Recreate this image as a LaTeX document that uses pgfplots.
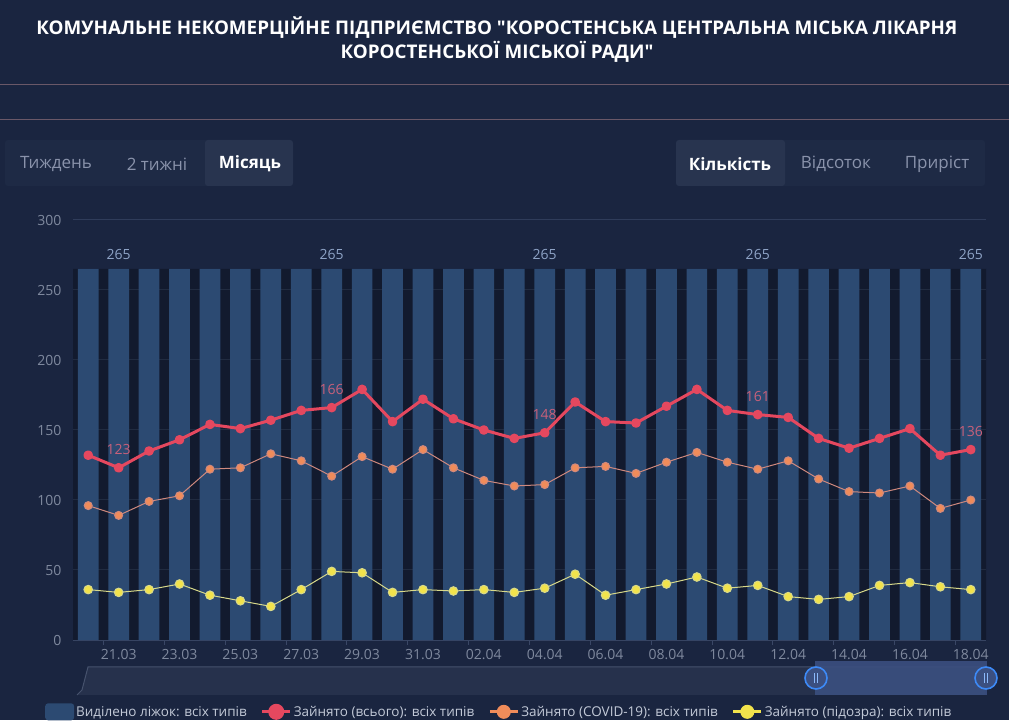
\documentclass[border=0pt]{standalone}
\usepackage{pgfplots}
\pgfplotsset{compat=1.18}
\usepackage{pgfplotstable}
\usepackage{fontspec}
\setmainfont{Open Sans}
\newfontfamily\titlefont{Open Sans}[Ligatures=TeXOff]
\definecolor{bg}{HTML}{1A2540}
\definecolor{barc}{HTML}{2C4A72}
\definecolor{redc}{HTML}{E5485F}
\definecolor{orc}{HTML}{F08C5A}
\definecolor{orline}{HTML}{D0897E}
\definecolor{yelc}{HTML}{F2E34C}
\definecolor{yelline}{HTML}{D8D98A}
\definecolor{gridc}{HTML}{2F3C5A}
\definecolor{axisc}{HTML}{3A4766}
\definecolor{tickc}{HTML}{7F899E}
\definecolor{labc}{HTML}{8EA3C6}
\definecolor{redlab}{HTML}{C8607A}
\definecolor{legc}{HTML}{C3CAD8}
\definecolor{btnbg}{HTML}{1E2A45}
\definecolor{btnhl}{HTML}{28344F}
\definecolor{btntxt}{HTML}{8A93AB}
\definecolor{sepline}{HTML}{6A5868}
\definecolor{sliderbg}{HTML}{26314C}
\definecolor{sliderln}{HTML}{46526D}
\definecolor{slidersel}{HTML}{3B4F80}
\definecolor{handle}{HTML}{3D8AF7}

\pgfplotstableread{
i bed total covid susp
0 265 132 96 36
1 265 123 89 34
2 265 135 99 36
3 265 143 103 40
4 265 154 122 32
5 265 151 123 28
6 265 157 133 24
7 265 164 128 36
8 265 166 117 49
9 265 179 131 48
10 265 156 122 34
11 265 172 136 36
12 265 158 123 35
13 265 150 114 36
14 265 144 110 34
15 265 148 111 37
16 265 170 123 47
17 265 156 124 32
18 265 155 119 36
19 265 167 127 40
20 265 179 134 45
21 265 164 127 37
22 265 161 122 39
23 265 159 128 31
24 265 144 115 29
25 265 137 106 31
26 265 144 105 39
27 265 151 110 41
28 265 132 94 38
29 265 136 100 36
}\data

\begin{document}
\begin{tikzpicture}[x=1pt,y=1pt]
\useasboundingbox (0,0) rectangle (1009,720);
\fill[bg] (0,0) rectangle (1009,720);
% title
\node[text=white, font=\titlefont\bfseries\fontsize{18.8}{22}\selectfont] at (497,692) {КОМУНАЛЬНЕ НЕКОМЕРЦІЙНЕ ПІДПРИЄМСТВО "КОРОСТЕНСЬКА ЦЕНТРАЛЬНА МІСЬКА ЛІКАРНЯ};
\node[text=white, font=\titlefont\bfseries\fontsize{18.8}{22}\selectfont] at (497,668) {КОРОСТЕНСЬКОЇ МІСЬКОЇ РАДИ"};
\draw[sepline, line width=1pt] (0,635) -- (1009,635);
\draw[sepline, line width=1pt] (0,600) -- (1009,600);
% buttons
\fill[btnbg, rounded corners=3pt] (5,534) rectangle (293,580);
\fill[btnhl, rounded corners=3pt] (205,534) rectangle (293,580);
\fill[btnbg, rounded corners=3pt] (676,534) rectangle (985,580);
\fill[btnhl, rounded corners=3pt] (676,534) rectangle (785,580);
\node[text=btntxt, font=\fontsize{17}{20}\selectfont] at (56,556) {Тиждень};
\node[text=btntxt, font=\fontsize{17}{20}\selectfont] at (157,556) {2 тижні};
\node[text=white, font=\bfseries\fontsize{17}{20}\selectfont] at (250,556) {Місяць};
\node[text=white, font=\bfseries\fontsize{17}{20}\selectfont] at (730,556) {Кількість};
\node[text=btntxt, font=\fontsize{17}{20}\selectfont] at (836,556) {Відсоток};
\node[text=btntxt, font=\fontsize{17}{20}\selectfont] at (937,556) {Приріст};
% slider
\fill[sliderbg] (77,25) -- (82,30) -- (88,53) -- (985,53) -- (985,25) -- cycle;
\draw[sliderln, line width=1pt] (77,25) -- (82,30) -- (88,53) -- (985,53);
\fill[slidersel, opacity=0.9] (815,25) rectangle (987,59);
\foreach \hx in {816,986}{
  \draw[handle, line width=1.6pt, fill=slidersel] (\hx,42) circle (11);
  \draw[handle!60!white, line width=1pt] (\hx-1.5,37) -- (\hx-1.5,47) (\hx+1.5,37) -- (\hx+1.5,47);
}
\begin{axis}[
  at={(73pt,80pt)}, anchor=south west, scale only axis,
  width=913pt, height=420pt,
  xmin=-0.5, xmax=29.5, ymin=0, ymax=300,
  axis lines*=left,
  axis line style={-},
  y axis line style={draw=none},
  x axis line style={draw=axisc, line width=1pt},
  ytick={0,50,...,300},
  ymajorgrids, grid style={gridc, line width=1pt},
  ytick style={draw=none},
  xtick={0.5,2.5,...,28.5},
  xticklabels={21.03,23.03,25.03,27.03,29.03,31.03,02.04,04.04,06.04,08.04,10.04,12.04,14.04,16.04,18.04},
  x tick label style={xshift=15.2pt, yshift=-1pt},
  xtick style={draw=axisc, line width=1pt},
  tick align=outside, major tick length=5pt,
  ticklabel style={text=tickc, font=\fontsize{14}{16}\selectfont},
  /pgf/number format/assume math mode=true,
  y tick label style={xshift=-3pt},
  clip=false,
  legend style={at={(-0.0307,-0.171)}, anchor=west, draw=none, fill=none,
    legend columns=4, text=legc, font=\fontsize{13.5}{16}\selectfont,
    /tikz/every even column/.append style={column sep=12pt},
    inner sep=0pt, row sep=0pt},
]
\addplot[ybar, bar shift=0pt, bar width=30.43pt, fill=black, fill opacity=0.28, draw=none, forget plot] table[x=i,y=bed]{\data};
\addplot[ybar, bar shift=0pt, bar width=20.7pt, fill=barc, draw=none,
  legend image code/.code={\fill[barc, rounded corners=3pt] (0pt,-8.5pt) rectangle (29pt,8.5pt);}] table[x=i,y=bed]{\data};
\addlegendentry{Виділено ліжок: всіх типів}
\addplot[redc, line width=3pt, line join=round, mark=*, mark size=3.3pt, mark options={fill=redc, draw=none},
  legend image code/.code={\draw[redc, line width=3pt] (0pt,0pt) -- (28pt,0pt); \fill[redc] (14pt,0pt) circle (6.5pt);}] table[x=i,y=total]{\data};
\addlegendentry{Зайнято (всього): всіх типів}
\addplot[orline, line width=1pt, mark=*, mark size=4pt, mark options={fill=orc, draw=none},
  legend image code/.code={\draw[orc, line width=3pt] (0pt,0pt) -- (28pt,0pt); \fill[orc] (14pt,0pt) circle (6.5pt);}] table[x=i,y=covid]{\data};
\addlegendentry{Зайнято (COVID-19): всіх типів}
\addplot[yelline, line width=1pt, mark=*, mark size=4.3pt, mark options={fill=yelc, draw=none},
  legend image code/.code={\draw[yelc, line width=3pt] (0pt,0pt) -- (28pt,0pt); \fill[yelc] (14pt,0pt) circle (6.5pt);}] table[x=i,y=susp]{\data};
\addlegendentry{Зайнято (підозра): всіх типів}
% value labels
\addplot[draw=none, mark=none, forget plot, nodes near coords,
  nodes near coords style={text=labc, font=\fontsize{14}{16}\selectfont, anchor=center, yshift=14pt}]
  coordinates {(1,265) (8,265) (15,265) (22,265) (29,265)};
\addplot[draw=none, mark=none, forget plot, nodes near coords,
  nodes near coords style={text=redlab, font=\fontsize{14}{16}\selectfont, anchor=center, yshift=18pt}]
  coordinates {(1,123) (8,166) (15,148) (22,161) (29,136)};
\end{axis}
\end{tikzpicture}
\end{document}
